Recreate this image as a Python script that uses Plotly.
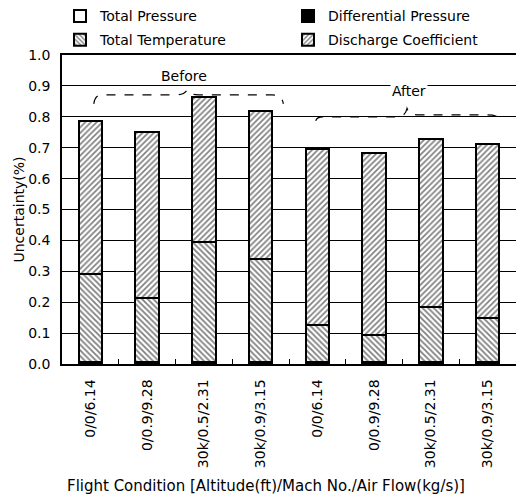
import plotly.graph_objects as go

categories = ["0/0/6.14", "0/0.9/9.28", "30k/0.5/2.31", "30k/0.9/3.15",
              "0/0/6.14", "0/0.9/9.28", "30k/0.5/2.31", "30k/0.9/3.15"]
total_pressure = [0.002] * 8
differential_pressure = [0.005] * 8
total_temperature = [0.285, 0.207, 0.388, 0.333, 0.118, 0.088, 0.177, 0.143]
totals = [0.787, 0.750, 0.865, 0.820, 0.697, 0.683, 0.729, 0.713]
discharge_coefficient = [round(t - a - b - c, 3) for t, a, b, c in
                         zip(totals, total_pressure, differential_pressure, total_temperature)]

x = list(range(len(categories)))
FONT = "DejaVu Sans"
W = 0.41

fig = go.Figure()
line = dict(color="black", width=2)
fig.add_bar(x=x, y=total_pressure, name="Total Pressure", width=W,
            marker=dict(color="white", line=line), legend="legend")
fig.add_bar(x=x, y=differential_pressure, name="Differential Pressure", width=W,
            marker=dict(color="black", line=line), legend="legend")
fig.add_bar(x=x, y=total_temperature, name="Total Temperature", width=W,
            marker=dict(color="white", line=line,
                        pattern=dict(shape="\\", fgcolor="black", bgcolor="white",
                                     size=4, solidity=0.45)), legend="legend2")
fig.add_bar(x=x, y=discharge_coefficient, name="Discharge Coefficient", width=W,
            marker=dict(color="white", line=line,
                        pattern=dict(shape="/", fgcolor="black", bgcolor="white",
                                     size=4, solidity=0.42)), legend="legend2")

dash = dict(color="black", width=1.2, dash="dash")
before_path = ("M 0.06,0.842 Q 0.08,0.871 0.2,0.871 L 1.5,0.871 Q 1.65,0.871 1.70,0.886 "
               "Q 1.75,0.871 1.9,0.871 L 3.2,0.871 Q 3.38,0.871 3.40,0.842")
after_path = ("M 3.97,0.787 Q 3.99,0.80 4.1,0.80 L 5.4,0.80 Q 5.55,0.80 5.58,0.827 "
              "Q 5.62,0.806 5.8,0.806 L 7.0,0.806 Q 7.22,0.806 7.24,0.785")
fig.add_shape(type="path", path=before_path, xref="x", yref="y", line=dash)
fig.add_shape(type="path", path=after_path, xref="x", yref="y", line=dash)

fig.add_annotation(x=1.65, y=0.932, xref="x", yref="y", text="Before", showarrow=False,
                   font=dict(family=FONT, size=14, color="black"))
fig.add_annotation(x=5.62, y=0.883, xref="x", yref="y", text="After", showarrow=False,
                   bgcolor="white", font=dict(family=FONT, size=14, color="black"))
fig.add_annotation(x=0.449, y=-0.43, xref="paper", yref="paper",
                   text="Flight Condition [Altitude(ft)/Mach No./Air Flow(kg/s)]",
                   showarrow=False, font=dict(family=FONT, size=15, color="black"))

legend_common = dict(orientation="h", xanchor="left", yanchor="middle",
                     traceorder="normal",
                     font=dict(family=FONT, size=14, color="black"),
                     entrywidth=183, entrywidthmode="pixels", itemwidth=30,
                     bgcolor="rgba(0,0,0,0)", tracegroupgap=0)
fig.update_layout(
    width=516, height=504,
    margin=dict(l=62, r=0, t=53, b=140),
    paper_bgcolor="white", plot_bgcolor="white",
    barmode="stack",
    font=dict(family=FONT, size=14, color="black"),
    legend=dict(x=0.0, y=1.125, **legend_common),
    legend2=dict(x=0.0, y=1.048, **legend_common),
    xaxis=dict(range=[-0.5, 7.5], tickmode="array", tickvals=x, ticktext=categories,
               tickangle=-90, ticks="", showline=True, linecolor="black", linewidth=1.5,
               mirror=True, showgrid=False, ticklabelstandoff=8,
               tickfont=dict(family=FONT, size=14, color="black"),
               minor=dict(tickmode="array", tickvals=[i + 0.5 for i in x[:-1]],
                          ticks="inside", ticklen=5, tickcolor="black", tickwidth=1)),
    yaxis=dict(range=[0, 1.0], dtick=0.1, tickformat=".1f", showline=True,
               linecolor="black", linewidth=1.5, showgrid=True, gridcolor="black",
               gridwidth=1, ticks="", ticklabelstandoff=7, zeroline=False,
               title=dict(text="Uncertainty(%)", standoff=0,
                          font=dict(family=FONT, size=14, color="black")),
               tickfont=dict(family=FONT, size=14, color="black")),
)

fig.write_html("out.html")
